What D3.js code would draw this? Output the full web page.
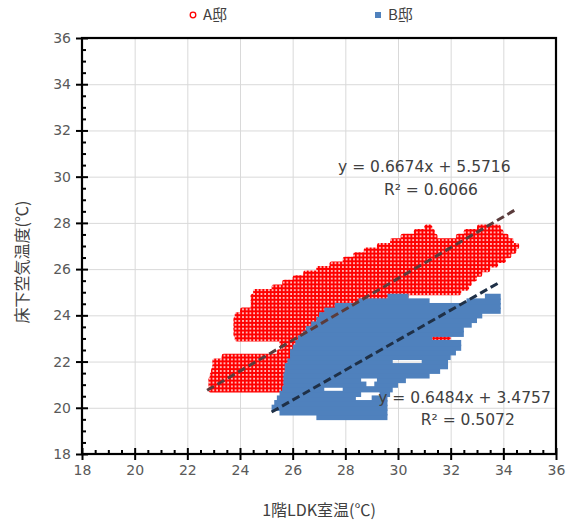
<!DOCTYPE html>
<html>
<head>
<meta charset="utf-8">
<script src="https://d3js.org/d3.v7.min.js"></script>
<style>
  body { margin: 0; background: #fff; }
  svg { display: block; }
</style>
</head>
<body>
<svg id="chart"></svg>
<script>
// series names and colours
const seriesNames = ["A邸", "B邸"];
const seriesColors = ["#ff0000", "#4f81bd"];

// axis ticks
const xTicks = [18, 20, 22, 24, 26, 28, 30, 32, 34, 36];
const yTicks = [18, 20, 22, 24, 26, 28, 30, 32, 34, 36];

// A邸 point cloud: [床下温度, 室温 from, 室温 to]
const rowsA = [
  [20.8, 22.8, 26.6],
  [21.0, 22.8, 27.0],
  [21.2, 22.8, 27.4],
  [21.4, 22.85, 27.6],
  [21.6, 22.9, 27.8],
  [21.8, 22.95, 28.0],
  [22.0, 22.95, 28.0],
  [22.2, 23.3, 28.2],
  [22.4, 25.4, 28.5],
  [22.6, 25.6, 28.5],
  [22.8, 25.5, 28.6],
  [23.0, 23.8, 28.8],
  [23.0, 31.3, 32.0],
  [23.2, 23.75, 29.0],
  [23.4, 23.75, 29.2],
  [23.6, 23.75, 29.5],
  [23.8, 23.75, 29.8],
  [24.0, 23.8, 30.2],
  [24.2, 24.0, 30.0],
  [24.4, 24.4, 29.8],
  [24.6, 24.4, 29.8],
  [24.8, 24.4, 30.4],
  [25.0, 24.5, 32.4],
  [25.2, 25.2, 32.7],
  [25.4, 25.6, 32.8],
  [25.6, 26.0, 33.0],
  [25.8, 26.4, 33.2],
  [26.0, 26.9, 33.5],
  [26.2, 27.4, 33.8],
  [26.4, 27.9, 34.1],
  [26.6, 28.3, 34.3],
  [26.8, 28.7, 34.5],
  [27.0, 29.2, 34.6],
  [27.2, 29.7, 34.4],
  [27.4, 30.1, 31.5],
  [27.4, 32.2, 34.2],
  [27.6, 30.6, 31.4],
  [27.6, 32.5, 34.0],
  [27.8, 31.0, 31.3],
  [27.8, 33.0, 33.9]
];

// B邸 point cloud, same layout
const rowsB = [
  [19.6, 26.9, 29.6],
  [19.8, 25.5, 29.6],
  [20.0, 25.2, 29.6],
  [20.2, 25.3, 29.6],
  [20.4, 25.4, 28.4],
  [20.4, 29.0, 29.6],
  [20.6, 25.5, 28.6],
  [20.6, 29.3, 29.7],
  [20.8, 25.6, 27.2],
  [20.8, 27.9, 29.8],
  [21.0, 25.65, 28.8],
  [21.0, 29.1, 30.0],
  [21.2, 25.65, 28.6],
  [21.2, 29.2, 30.3],
  [21.4, 25.65, 31.2],
  [21.6, 25.7, 31.6],
  [21.8, 25.7, 31.9],
  [22.0, 25.8, 29.8],
  [22.0, 30.9, 31.9],
  [22.2, 25.9, 32.0],
  [22.4, 25.9, 32.2],
  [22.6, 26.0, 32.4],
  [22.8, 26.1, 32.4],
  [23.0, 26.2, 31.3],
  [23.2, 26.4, 32.5],
  [23.4, 26.5, 32.5],
  [23.6, 26.7, 32.8],
  [23.8, 26.9, 33.0],
  [24.0, 27.0, 33.2],
  [24.2, 27.2, 33.9],
  [24.4, 27.6, 33.9],
  [24.6, 28.5, 31.2],
  [24.6, 32.6, 33.9],
  [24.8, 29.6, 30.4],
  [24.8, 33.3, 33.9]
];

// trend lines: [slope, intercept], x range, label texts
const trendA = [0.6674, 5.5716];
const trendRangeA = [22.75, 34.45];
const trendB = [0.6484, 3.4757];
const trendRangeB = [25.2, 33.9];
const eqTextA = ["y = 0.6674x + 5.5716", "R² = 0.6066"];
const eqTextB = ["y = 0.6484x + 3.4757", "R² = 0.5072"];

const W = 566, H = 526;
const margin = { top: 38, right: 10, bottom: 72, left: 82 };
const w = W - margin.left - margin.right;
const h = H - margin.top - margin.bottom;

const svg = d3.select('#chart').attr('width', W).attr('height', H);

const defs = svg.append('defs');
// texture for the overlapping open circles of A邸
const pat = defs.append('pattern')
  .attr('id', 'dotsA')
  .attr('patternUnits', 'userSpaceOnUse')
  .attr('width', 3.7).attr('height', 3.85);
pat.append('rect').attr('width', 3.7).attr('height', 3.85).attr('fill', seriesColors[0]);
pat.append('rect').attr('x', 1.1).attr('y', 1.1).attr('width', 1.6).attr('height', 1.6).attr('fill', '#fff');

const g = svg.append('g').attr('transform', `translate(${margin.left},${margin.top})`);

const xScale = d3.scaleLinear().domain([18, 36]).range([0, w]);
const yScale = d3.scaleLinear().domain([18, 36]).range([h, 0]);

// gridlines
g.append('g')
  .attr('transform', `translate(0,${h})`)
  .call(d3.axisBottom(xScale).tickValues(xTicks).tickSize(-h).tickFormat(''))
  .call(s => s.select('.domain').remove())
  .selectAll('line').attr('stroke', '#d9d9d9').attr('stroke-width', 1);
g.append('g')
  .call(d3.axisLeft(yScale).tickValues(yTicks).tickSize(-w).tickFormat(''))
  .call(s => s.select('.domain').remove())
  .selectAll('line').attr('stroke', '#d9d9d9').attr('stroke-width', 1);

// rows overlap a little so they join up like the packed markers
const halfRow = 0.1;
const pad = 0.8;

// A邸
g.append('g').selectAll('rect').data(rowsA).enter().append('rect')
  .attr('x', d => xScale(d[1]))
  .attr('y', d => yScale(d[0] + halfRow) - pad)
  .attr('width', d => xScale(d[2]) - xScale(d[1]))
  .attr('height', d => yScale(d[0] - halfRow) - yScale(d[0] + halfRow) + 2 * pad)
  .attr('rx', 2.2)
  .attr('fill', 'url(#dotsA)');

// B邸
g.append('g').selectAll('rect').data(rowsB).enter().append('rect')
  .attr('x', d => xScale(d[1]))
  .attr('y', d => yScale(d[0] + halfRow) - pad)
  .attr('width', d => xScale(d[2]) - xScale(d[1]))
  .attr('height', d => yScale(d[0] - halfRow) - yScale(d[0] + halfRow) + 2 * pad)
  .attr('fill', seriesColors[1]);

// trend lines
const trendLine = (coef, range, color) => {
  g.append('line')
    .attr('x1', xScale(range[0]))
    .attr('y1', yScale(coef[0] * range[0] + coef[1]))
    .attr('x2', xScale(range[1]))
    .attr('y2', yScale(coef[0] * range[1] + coef[1]))
    .attr('stroke', color)
    .attr('stroke-width', 3)
    .attr('stroke-dasharray', '8,4');
};
trendLine(trendA, trendRangeA, '#5b3c3c');
trendLine(trendB, trendRangeB, '#1f3047');

// equation labels
const eqFont = "'DejaVu Sans', sans-serif";
const eq = g.append('g').attr('font-family', eqFont).attr('font-size', 15.5).attr('fill', '#404040');
eq.append('text').attr('x', xScale(31.0)).attr('y', yScale(30.2)).attr('text-anchor', 'middle').text(eqTextA[0]);
eq.append('text').attr('x', xScale(31.25)).attr('y', yScale(29.2)).attr('text-anchor', 'middle').text(eqTextA[1]);
eq.append('text').attr('x', xScale(29.25)).attr('y', yScale(20.2)).attr('text-anchor', 'start').text(eqTextB[0]);
eq.append('text').attr('x', xScale(32.65)).attr('y', yScale(19.25)).attr('text-anchor', 'middle').text(eqTextB[1]);

// axes: labels, major ticks crossing, minor ticks inside
const minorTicks = d3.range(36).map(i => 18 + i * 0.5).filter(v => v % 2 !== 0);

const addAxis = (parent, axis) => parent.append('g').attr('class', 'ax')
  .call(axis).call(s => s.select('.domain').remove());

const xAxis = g.append('g').attr('transform', `translate(0,${h})`);
addAxis(xAxis, d3.axisBottom(xScale).tickValues(xTicks).tickSize(6).tickPadding(5));
addAxis(xAxis, d3.axisBottom(xScale).tickValues(xTicks).tickSize(-6).tickFormat(''));
addAxis(xAxis, d3.axisBottom(xScale).tickValues(minorTicks).tickSize(-4).tickFormat(''));

const yAxis = g.append('g');
addAxis(yAxis, d3.axisLeft(yScale).tickValues(yTicks).tickSize(6).tickPadding(5));
addAxis(yAxis, d3.axisLeft(yScale).tickValues(yTicks).tickSize(-6).tickFormat(''));
addAxis(yAxis, d3.axisLeft(yScale).tickValues(minorTicks).tickSize(-4).tickFormat(''));

g.selectAll('.ax .tick line').attr('stroke', '#000').attr('stroke-width', 2);
g.selectAll('.ax .tick text')
  .attr('font-family', eqFont).attr('font-size', 14).attr('fill', '#595959');

// plot border
g.append('rect')
  .attr('width', w).attr('height', h)
  .attr('fill', 'none').attr('stroke', '#000').attr('stroke-width', 2.2);

// axis titles
const jp = "'Noto Sans CJK JP', sans-serif";
svg.append('text')
  .attr('x', margin.left + w / 2).attr('y', 516)
  .attr('text-anchor', 'middle')
  .attr('font-family', jp).attr('font-size', 16).attr('fill', '#404040')
  .text('1階LDK室温(℃)');
svg.append('text')
  .attr('transform', `translate(28,${margin.top + h / 2 + 16}) rotate(-90)`)
  .attr('text-anchor', 'middle')
  .attr('font-family', jp).attr('font-size', 16).attr('fill', '#404040')
  .text('床下空気温度(℃)');

// legend
const legend = svg.append('g').attr('font-family', jp).attr('font-size', 15).attr('fill', '#404040');
legend.append('circle').attr('cx', 193).attr('cy', 15).attr('r', 2.8)
  .attr('fill', '#fff').attr('stroke', seriesColors[0]).attr('stroke-width', 1.3);
legend.append('text').attr('x', 203).attr('y', 20).text(seriesNames[0]);
legend.append('rect').attr('x', 375).attr('y', 12).attr('width', 6).attr('height', 6).attr('fill', seriesColors[1]);
legend.append('text').attr('x', 388).attr('y', 20).text(seriesNames[1]);
</script>
</body>
</html>
